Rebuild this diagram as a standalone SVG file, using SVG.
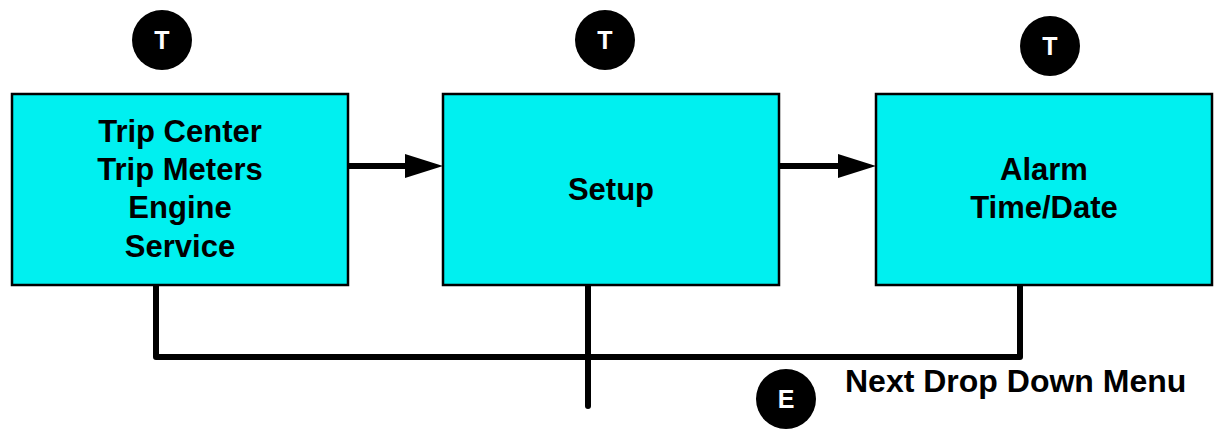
<svg xmlns="http://www.w3.org/2000/svg" width="1215" height="429" viewBox="0 0 1215 429">
<style>
.box{fill:#00F0F0;stroke:#000;stroke-width:2.5}
.lbl{font-family:"Liberation Sans",Arial,sans-serif;font-weight:bold;font-size:31px;fill:#000;text-anchor:middle}
.badge{fill:#000}
.bt{font-family:"Liberation Sans",Arial,sans-serif;font-weight:bold;font-size:25px;fill:#fff;text-anchor:middle}
.ln{stroke:#000;stroke-width:6;fill:none;stroke-linecap:round;stroke-linejoin:round}
</style>
<rect width="1215" height="429" fill="#fff"/>
<g id="connectors">
<line class="ln" x1="348" y1="166" x2="410" y2="166"/>
<path d="M405,154 L443,166 L405,178 Z" fill="#000"/>
<line class="ln" x1="779" y1="166" x2="842" y2="166"/>
<path d="M838,154 L876,166 L838,178 Z" fill="#000"/>
<polyline class="ln" points="156,286 156,357 1020,357 1020,286"/>
<line class="ln" x1="588" y1="286" x2="588" y2="406"/>
</g>
<g id="node-trip">
<rect class="box" x="12" y="94" width="336" height="191"/>
<text class="lbl" x="180" y="142">Trip Center</text>
<text class="lbl" x="180" y="180">Trip Meters</text>
<text class="lbl" x="180" y="218">Engine</text>
<text class="lbl" x="180" y="257">Service</text>
</g>
<g id="node-setup">
<rect class="box" x="443" y="94" width="336" height="191"/>
<text class="lbl" x="611" y="200">Setup</text>
</g>
<g id="node-alarm">
<rect class="box" x="876" y="94" width="336" height="191"/>
<text class="lbl" x="1044" y="180">Alarm</text>
<text class="lbl" x="1044" y="218">Time/Date</text>
</g>
<g id="badge-t1">
<circle class="badge" cx="162" cy="40" r="30"/>
<text class="bt" x="162" y="49">T</text>
</g>
<g id="badge-t2">
<circle class="badge" cx="605" cy="40" r="30"/>
<text class="bt" x="605" y="49">T</text>
</g>
<g id="badge-t3">
<circle class="badge" cx="1050" cy="46" r="30"/>
<text class="bt" x="1050" y="55">T</text>
</g>
<g id="badge-e">
<circle class="badge" cx="786" cy="399" r="30"/>
<text class="bt" x="786" y="408">E</text>
</g>
<g id="label-next">
<text x="845" y="392" style="font-family:'Liberation Sans',Arial,sans-serif;font-weight:bold;font-size:32px;fill:#000">Next Drop Down Menu</text>
</g>
</svg>
